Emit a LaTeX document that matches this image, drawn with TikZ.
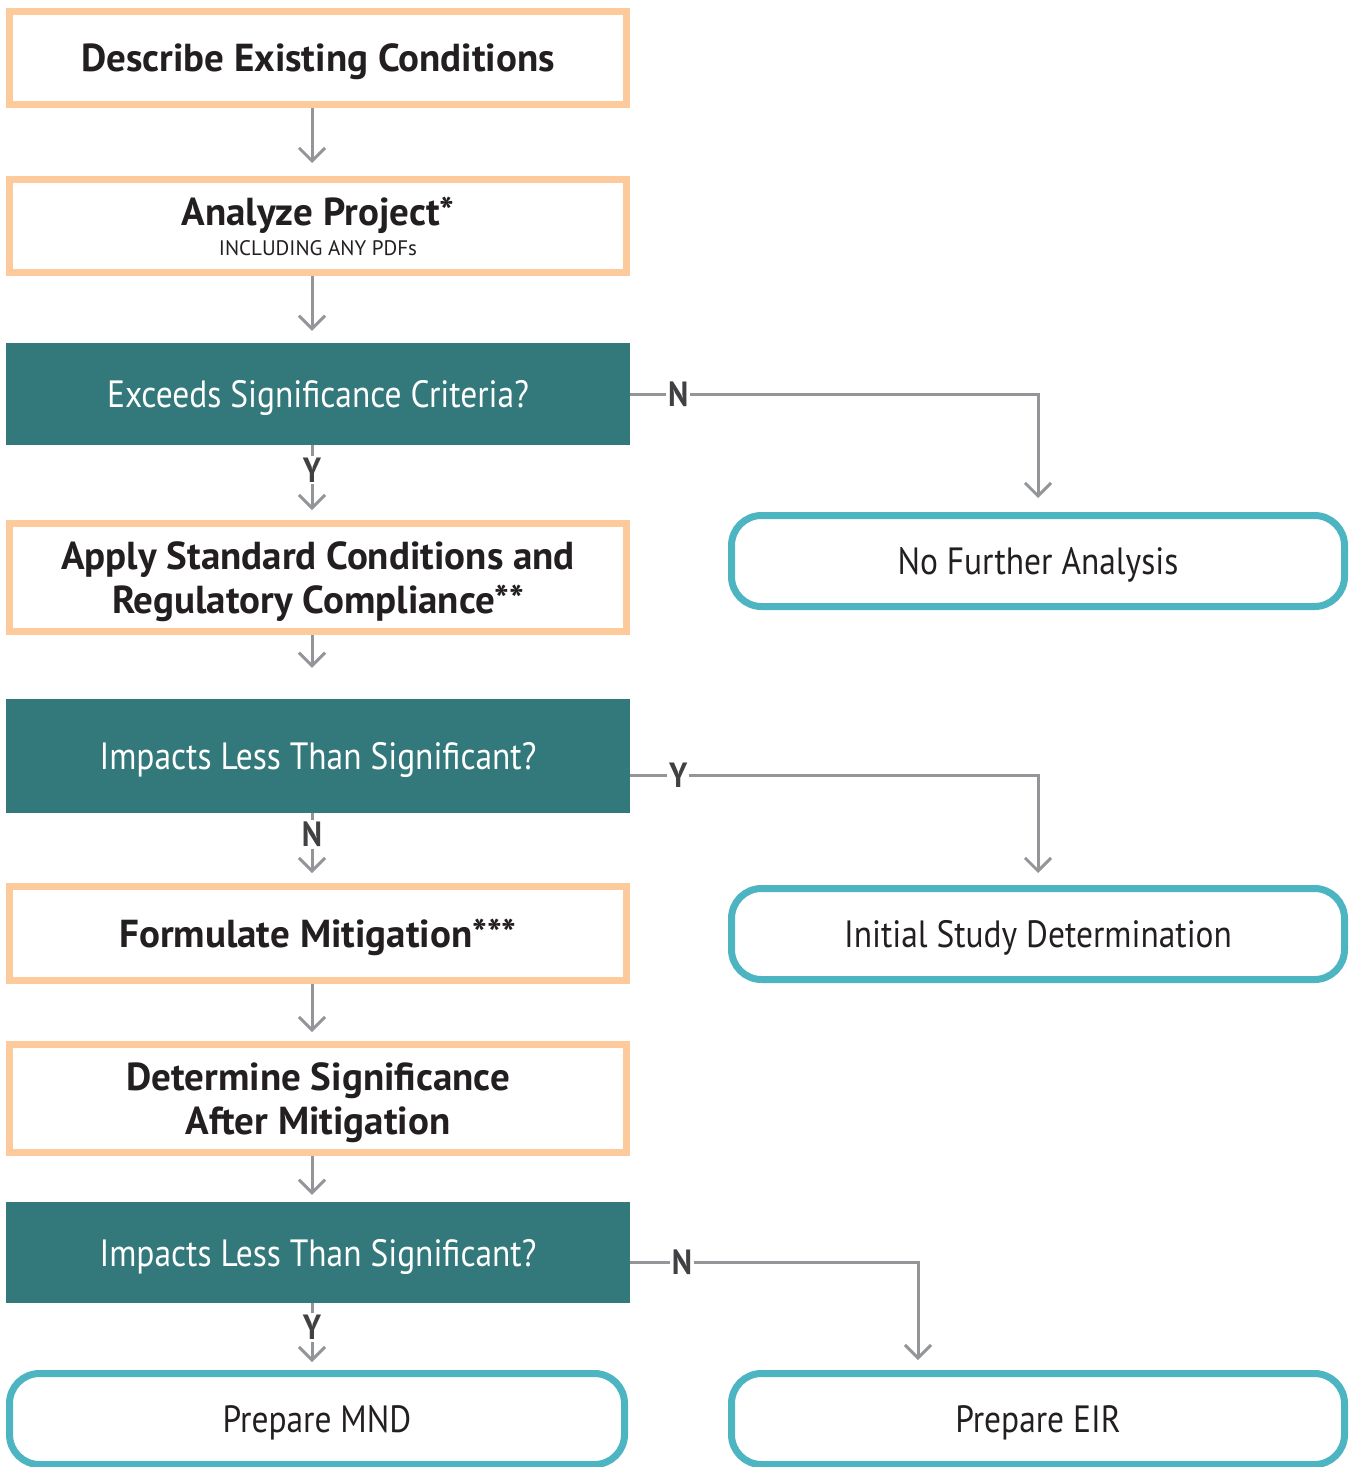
\documentclass[tikz,border=0pt]{standalone}
\usepackage{fontspec}
\setmainfont{PT Sans}
\newfontfamily\narrowsans[FakeStretch=0.88]{PT Sans}
\usetikzlibrary{arrows.meta}
\definecolor{peach}{HTML}{FDCA9B}
\definecolor{deepteal}{HTML}{33787B}
\definecolor{lightteal}{HTML}{4DB5C1}
\definecolor{wire}{HTML}{939598}
\definecolor{answertext}{HTML}{414042}
\definecolor{ink}{HTML}{231F20}

\begin{document}
\begin{tikzpicture}[x=1pt,y=-1pt,
	stepbox/.style={draw=peach,line width=7pt,fill=white,minimum width=617pt,align=center,text=ink,text depth=0pt,font=\bfseries\fontsize{39}{44}\selectfont},
	query/.style={fill=deepteal,minimum width=624pt,text=white,text depth=0pt,font=\narrowsans\fontsize{38}{44}\selectfont},
	outcome/.style={draw=lightteal,line width=7pt,rounded corners=30pt,minimum width=613pt,minimum height=91pt,text=ink,text depth=0pt,font=\narrowsans\fontsize{38}{44}\selectfont},
	flow/.style={draw=wire,line width=3pt,-{Straight Barb[length=13pt,width=26pt,line width=3pt]}},
	answer/.style={fill=white,text=answertext,inner sep=2pt,font=\narrowsans\bfseries\fontsize{35}{35}\selectfont}]
	\useasboundingbox (0,0) rectangle (1352,1467);
	\coordinate (axis) at (312,0);
	\node[stepbox,minimum height=93pt] (describe) at (318,58) {Describe Existing Conditions};
	\node[stepbox,minimum height=93pt,text depth=] (analyze) at (318,226) {Analyze Project*\\[-14pt]{\mdseries\fontsize{21}{24}\selectfont INCLUDING ANY PDFs}};
	\node[query,minimum height=102pt] (exceeds) at (318,394) {Exceeds Significance Criteria?};
	\node[stepbox,minimum height=108pt] (apply) at (318,577.5) {Apply Standard Conditions and\\Regulatory Compliance**};
	\node[query,minimum height=114pt] (impacts) at (318,756) {Impacts Less Than Significant?};
	\node[stepbox,minimum height=94pt] (mitigate) at (318,933.5) {Formulate Mitigation***};
	\node[stepbox,minimum height=108pt] (determine) at (318,1098.5) {Determine Significance\\After Mitigation};
	\node[query,minimum height=101pt] (final) at (318,1252.5) {Impacts Less Than Significant?};
	\node[outcome,minimum width=615pt] (mnd) at (317,1419) {Prepare MND};
	\node[outcome] (nofurther) at (1038,561) {No Further Analysis};
	\node[outcome] (initial) at (1038,934) {Initial Study Determination};
	\node[outcome] (eir) at (1038,1419) {Prepare EIR};
	\foreach \a/\b/\g in {describe/analyze/13,analyze/exceeds/12,apply/impacts/31,mitigate/determine/9,determine/final/7}{
		\draw[flow,shorten >=\g pt] (\a.south -| axis) -- (\b.north -| axis);
	}
	\draw[flow,shorten >=10pt] (exceeds.south -| axis) -- node[answer,pos=0.33] {Y} (apply.north -| axis);
	\draw[flow,shorten >=10pt] (impacts.south -| axis) -- node[answer,pos=0.3] {N} (mitigate.north -| axis);
	\draw[flow,shorten >=8pt] (final.south -| axis) -- node[answer,pos=0.36] {Y} (mnd.north -| axis);
	\draw[flow,shorten >=14pt] (exceeds.east) -| node[answer,pos=0.059] {N} (nofurther.north);
	\draw[flow,shorten >=12pt] ([yshift=-19pt]impacts.east) -| node[answer,pos=0.059] {Y} (initial.north);
	\draw[flow,shorten >=10pt] ([yshift=-9.5pt]final.east) -| node[answer,pos=0.09] {N} ([xshift=-120pt]eir.north);
\end{tikzpicture}
\end{document}
